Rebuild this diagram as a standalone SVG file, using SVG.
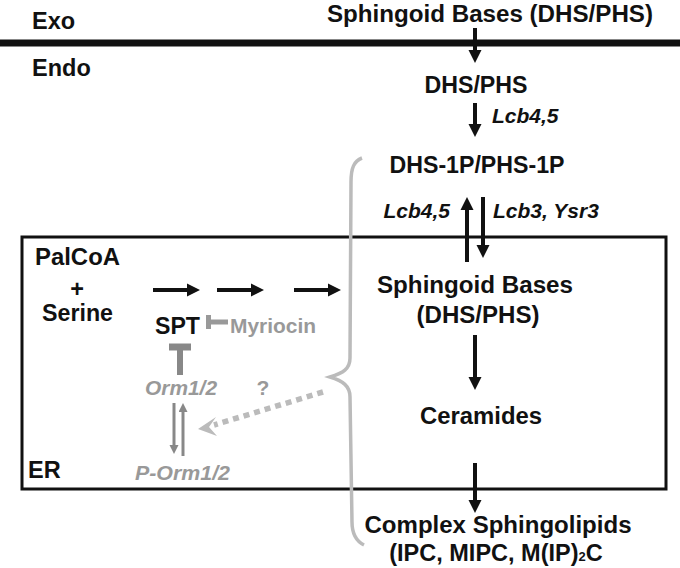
<svg xmlns="http://www.w3.org/2000/svg" width="680" height="568" viewBox="0 0 680 568">
<style>
text{font-family:"Liberation Sans",Arial,sans-serif;font-weight:bold;}
.t{font-size:23.5px;fill:#111;}
.s{font-size:21px;fill:#111;font-style:italic;}
.g{font-size:21px;fill:#999;}
.gi{font-size:21px;fill:#999;font-style:italic;}
.k{stroke:#111;stroke-width:4;fill:none;}
.gr{stroke:#888;fill:none;}
</style>
<defs>
<marker id="ah" markerWidth="14" markerHeight="14" refX="3" refY="7" orient="auto" markerUnits="userSpaceOnUse"><path d="M0,0.5 L13,7 L0,13.5 Z" fill="#111"/></marker>
<marker id="ag" markerWidth="9" markerHeight="10" refX="2" refY="4.5" orient="auto" markerUnits="userSpaceOnUse"><path d="M0,0 L9,4.5 L0,9 Z" fill="#888"/></marker>
</defs>
<rect width="680" height="568" fill="#fff"/>
<g id="membrane">
<line x1="0" y1="43" x2="680" y2="43" stroke="#111" stroke-width="7"/>
<text class="t" x="32" y="29">Exo</text>
<text class="t" x="32" y="76">Endo</text>
</g>
<g id="er">
<rect x="22" y="237" width="644" height="252" fill="none" stroke="#111" stroke-width="3"/>
<text class="t" x="28" y="478">ER</text>
</g>
<g id="brace">
<path d="M362,158 C354,161 351,168 351,182 L350,358 C350,369 343,373 330,377 C343,381 350,386 350,397 L352,522 C352,534 356,541 364,545" fill="none" stroke="#bbb" stroke-width="3.5"/>
</g>
<g id="sb-exo"><text class="t" x="490" y="22" text-anchor="middle" textLength="326" lengthAdjust="spacingAndGlyphs">Sphingoid Bases (DHS/PHS)</text></g>
<g id="dhs-phs"><text class="t" x="476" y="93" text-anchor="middle" textLength="103" lengthAdjust="spacingAndGlyphs">DHS/PHS</text></g>
<g id="dhs1p"><text class="t" x="477" y="173" text-anchor="middle" textLength="175" lengthAdjust="spacingAndGlyphs">DHS-1P/PHS-1P</text></g>
<g id="sb-er">
<text class="t" x="475" y="293" text-anchor="middle" textLength="196" lengthAdjust="spacingAndGlyphs">Sphingoid Bases</text>
<text class="t" x="478" y="323" text-anchor="middle" textLength="123" lengthAdjust="spacingAndGlyphs">(DHS/PHS)</text>
</g>
<g id="ceramides"><text class="t" x="481" y="424" text-anchor="middle" textLength="122" lengthAdjust="spacingAndGlyphs">Ceramides</text></g>
<g id="complex">
<text class="t" x="498" y="533" text-anchor="middle" textLength="267" lengthAdjust="spacingAndGlyphs">Complex Sphingolipids</text>
<text class="t" x="496" y="561" text-anchor="middle">(IPC, MIPC, M(IP)<tspan font-size="13">2</tspan>C</text>
</g>
<g id="palcoa">
<text class="t" x="35" y="265" textLength="85" lengthAdjust="spacingAndGlyphs">PalCoA</text>
<text class="t" x="77" y="297" text-anchor="middle">+</text>
<text class="t" x="42" y="321" textLength="71" lengthAdjust="spacingAndGlyphs">Serine</text>
</g>
<g id="spt"><text class="t" x="155" y="334" textLength="45" lengthAdjust="spacingAndGlyphs">SPT</text></g>
<g id="myriocin"><text class="g" x="230" y="333" textLength="86" lengthAdjust="spacingAndGlyphs">Myriocin</text></g>
<g id="orm"><text class="gi" x="145" y="395" textLength="72" lengthAdjust="spacingAndGlyphs">Orm1/2</text></g>
<g id="porm"><text class="gi" x="135" y="480" textLength="95" lengthAdjust="spacingAndGlyphs">P-Orm1/2</text></g>
<g id="connectors">
<line class="k" x1="475" y1="28" x2="475" y2="53" stroke-width="3" marker-end="url(#ah)"/>
<line class="k" x1="475" y1="103" x2="475" y2="127" stroke-width="3" marker-end="url(#ah)"/>
<text class="s" x="492" y="123">Lcb4,5</text>
<line class="k" x1="467" y1="262" x2="467" y2="207" stroke-width="3.5" marker-end="url(#ah)"/>
<line class="k" x1="483" y1="197" x2="483" y2="248" stroke-width="3.5" marker-end="url(#ah)"/>
<text class="s" x="450" y="218" text-anchor="end">Lcb4,5</text>
<text class="s" x="493" y="218">Lcb3, Ysr3</text>
<line class="k" x1="475" y1="335" x2="475" y2="380" stroke-width="3.5" marker-end="url(#ah)"/>
<line class="k" x1="475" y1="463" x2="475" y2="503" stroke-width="3.5" marker-end="url(#ah)"/>
<line class="k" x1="153" y1="290" x2="190" y2="290" stroke-width="3.5" marker-end="url(#ah)"/>
<line class="k" x1="217" y1="290" x2="254" y2="290" stroke-width="3.5" marker-end="url(#ah)"/>
<line class="k" x1="294" y1="290" x2="331" y2="290" stroke-width="3.5" marker-end="url(#ah)"/>
<line x1="210" y1="322" x2="228" y2="322" stroke="#999" stroke-width="5"/>
<line x1="208.5" y1="315" x2="208.5" y2="329" stroke="#999" stroke-width="5"/>
<line x1="180" y1="347" x2="180" y2="375" stroke="#888" stroke-width="6"/>
<line x1="169" y1="347" x2="191" y2="347" stroke="#888" stroke-width="7"/>
<line class="gr" x1="174" y1="403" x2="174" y2="447" stroke-width="3" marker-end="url(#ag)"/>
<line class="gr" x1="183" y1="456" x2="183" y2="410" stroke-width="3" marker-end="url(#ag)"/>
<line x1="323" y1="392" x2="214" y2="425" stroke="#bbb" stroke-width="5.5" stroke-dasharray="6,5"/>
<polygon points="198,429 216,417 209,427 217,436" fill="#bbb"/>
<text class="g" x="263" y="395" text-anchor="middle">?</text>
</g>
</svg>
